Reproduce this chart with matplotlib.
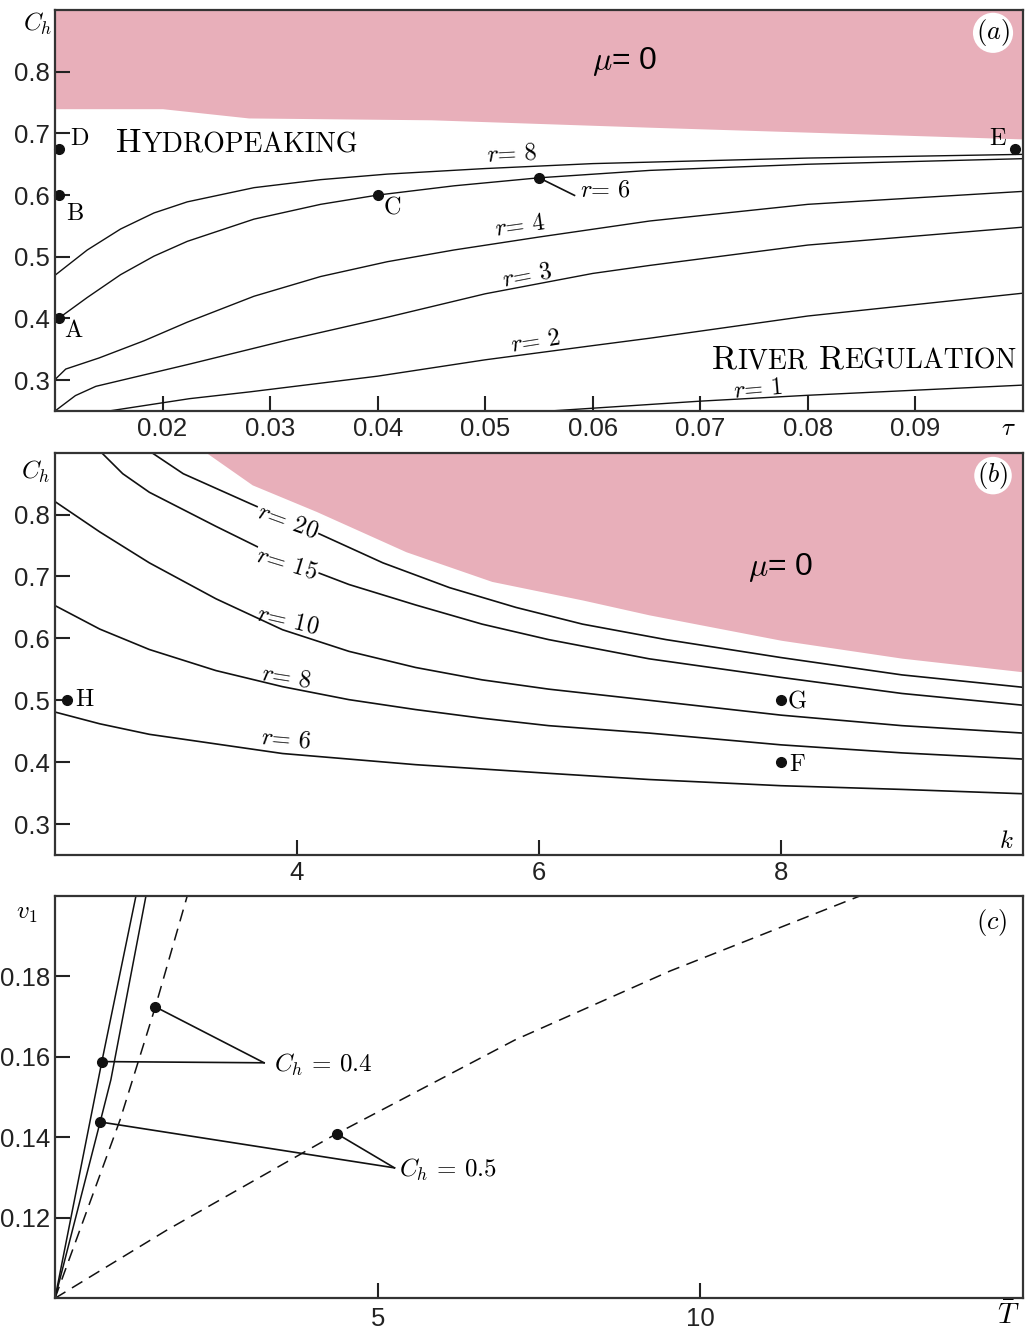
import matplotlib.pyplot as plt

plt.rcParams['mathtext.fontset'] = 'cm'
plt.rcParams['font.family'] = ['Liberation Sans', 'DejaVu Sans']

PINK = '#e8afba'
INK = '#222222'

# ---- panel (a): C_h against tau ----
tau_pink = [0.01, 0.02, 0.028, 0.045, 0.0653, 0.08, 0.1]
ch_pink_a = [0.740, 0.740, 0.725, 0.722, 0.710, 0.702, 0.691]

tau_r8 = [0.01, 0.013, 0.0161, 0.0192, 0.0223, 0.0285, 0.0347, 0.0409, 0.05, 0.06, 0.08, 0.1]
ch_r8 = [0.470, 0.511, 0.545, 0.571, 0.589, 0.612, 0.625, 0.634, 0.643, 0.651, 0.660, 0.666]
tau_r6 = [0.01, 0.013, 0.0161, 0.0192, 0.0223, 0.0285, 0.0347, 0.04, 0.0471, 0.055, 0.0653, 0.08, 0.1]
ch_r6 = [0.396, 0.434, 0.471, 0.501, 0.525, 0.561, 0.585, 0.600, 0.615, 0.628, 0.640, 0.650, 0.659]
tau_r4 = [0.01, 0.011, 0.0141, 0.0183, 0.0223, 0.0285, 0.0347, 0.0409, 0.0471, 0.055, 0.0653, 0.08, 0.1]
ch_r4 = [0.301, 0.318, 0.336, 0.364, 0.394, 0.436, 0.468, 0.492, 0.511, 0.532, 0.558, 0.585, 0.606]
tau_r3 = [0.01, 0.0119, 0.0138, 0.0225, 0.0316, 0.0409, 0.05, 0.06, 0.0653, 0.08, 0.1]
ch_r3 = [0.250, 0.275, 0.290, 0.326, 0.365, 0.402, 0.440, 0.473, 0.486, 0.519, 0.548]
tau_r2 = [0.015, 0.0225, 0.0281, 0.04, 0.05, 0.06, 0.0653, 0.08, 0.1]
ch_r2 = [0.250, 0.270, 0.281, 0.3065, 0.333, 0.356, 0.368, 0.404, 0.441]
tau_r1 = [0.056, 0.0653, 0.07, 0.08, 0.1]
ch_r1 = [0.250, 0.2606, 0.266, 0.2755, 0.292]

pts_a_tau = [0.0104, 0.0104, 0.0104, 0.04, 0.0993]
pts_a_ch = [0.675, 0.5995, 0.400, 0.600, 0.675]
r6_mark = (0.055, 0.628)
r6_tail = (0.0583, 0.5995)

# ---- panel (b): C_h against k ----
k_pink = [3.25, 3.63, 4.16, 4.90, 5.61, 6.36, 6.91, 8.0, 9.0, 10.0]
ch_pink_b = [0.900, 0.848, 0.805, 0.740, 0.692, 0.662, 0.638, 0.597, 0.568, 0.546]

k_r20 = [2.80, 3.06, 3.61, 4.16, 4.71, 5.26, 5.81, 6.36, 7.05, 8.0, 9.0, 10.0]
ch_r20 = [0.900, 0.866, 0.818, 0.771, 0.722, 0.682, 0.650, 0.623, 0.598, 0.569, 0.541, 0.521]
k_r15 = [2.385, 2.56, 2.78, 3.33, 3.88, 4.43, 4.98, 5.53, 6.08, 6.91, 8.0, 9.0, 10.0]
ch_r15 = [0.900, 0.866, 0.836, 0.781, 0.728, 0.687, 0.654, 0.623, 0.598, 0.567, 0.537, 0.511, 0.492]
k_r10 = [2.0, 2.37, 2.78, 3.33, 3.88, 4.43, 4.98, 5.53, 6.08, 6.91, 8.0, 9.0, 10.0]
ch_r10 = [0.821, 0.772, 0.722, 0.664, 0.614, 0.579, 0.553, 0.533, 0.518, 0.500, 0.476, 0.459, 0.447]
k_r8 = [2.0, 2.37, 2.78, 3.33, 3.88, 4.43, 4.98, 5.53, 6.08, 6.91, 8.0, 9.0, 10.0]
ch_r8b = [0.653, 0.615, 0.582, 0.548, 0.522, 0.501, 0.485, 0.471, 0.459, 0.447, 0.428, 0.415, 0.405]
k_r6 = [2.0, 2.37, 2.78, 3.88, 4.98, 6.08, 6.91, 8.0, 9.0, 10.0]
ch_r6b = [0.481, 0.462, 0.445, 0.414, 0.396, 0.382, 0.372, 0.362, 0.356, 0.349]

pts_b_k = [2.096, 8.0, 8.0]
pts_b_ch = [0.500, 0.500, 0.400]

# ---- panel (c): v1 against T bar ----
t_s1 = [0.0, 0.726, 1.255]
v_s1 = [0.100, 0.1588, 0.200]
t_s2 = [0.0, 0.70, 0.866, 1.41]
v_s2 = [0.100, 0.1438, 0.1543, 0.200]
t_d1 = [0.0, 0.5, 1.01, 1.555, 2.05]
v_d1 = [0.100, 0.122, 0.1444, 0.1724, 0.200]
t_d2 = [0.0, 1.74, 4.365, 7.13, 9.53, 12.48]
v_d2 = [0.100, 0.117, 0.1409, 0.1642, 0.1813, 0.200]

dots_c_t = [0.726, 1.555, 0.70, 4.365]
dots_c_v = [0.1588, 0.1724, 0.1438, 0.1409]
hub_04 = (3.24, 0.1585)
hub_05 = (5.26, 0.1324)

fig = plt.figure(figsize=(10.26, 13.31), dpi=100)
ax_a = fig.add_axes([0.0536, 0.6912, 0.9435, 0.3013])
ax_b = fig.add_axes([0.0536, 0.3576, 0.9435, 0.3023])
ax_c = fig.add_axes([0.0536, 0.0246, 0.9435, 0.3024])


def style(ax, xpad=4.5):
    for s in ax.spines.values():
        s.set_linewidth(1.6)
        s.set_color('#333333')
    ax.tick_params(direction='in', length=11, width=1.5, labelsize=18.5,
                   color=INK, labelcolor=INK)
    ax.tick_params(axis='y', pad=3.5)
    ax.tick_params(axis='x', pad=xpad)


def fx(px):
    return px / 1026


def fy(py):
    return 1 - py / 1331


def smallcaps(ax, x, y, words, big, small):
    # fake small caps: big first letter, smaller capitals after it
    renderer = fig.canvas.get_renderer()
    off = 0.0
    for w in words:
        for part, size in ((w[0], big), (w[1:], small)):
            t = ax.annotate(part, xy=(x, y), xytext=(off, 0), textcoords='offset points',
                            fontsize=size, family='cmr10', va='baseline', ha='left')
            off += t.get_window_extent(renderer).width * 72 / fig.dpi
        off += big * 0.33


def panel_tag(ax, label):
    ax.text(0.969, 0.943, label, transform=ax.transAxes, fontsize=19, ha='center', va='center',
            bbox=dict(boxstyle='circle,pad=0.12', fc='white', ec='none'))


rlab = dict(fontsize=17.5, family='cmr10', ha='center', va='center', rotation_mode='anchor')
plab = dict(fontsize=17.5, family='cmr10', ha='center', va='center')
gap = dict(boxstyle='square,pad=0.05', fc='white', ec='none')

# ---------------- (a) ----------------
ax = ax_a
style(ax)
ax.fill_between(tau_pink, ch_pink_a, 0.9, color=PINK, lw=0)
for xs, ys in [(tau_r8, ch_r8), (tau_r6, ch_r6), (tau_r4, ch_r4),
               (tau_r3, ch_r3), (tau_r2, ch_r2), (tau_r1, ch_r1)]:
    ax.plot(xs, ys, color='#111111', lw=1.0)
ax.plot(pts_a_tau, pts_a_ch, 'o', ms=7, color='#111111', clip_on=False)
ax.plot([r6_mark[0]], [r6_mark[1]], 'o', ms=7, color='#111111')
ax.plot([r6_mark[0], r6_tail[0]], [r6_mark[1], r6_tail[1]], color='#111111', lw=1.2)
ax.set_xlim(0.01, 0.1)
ax.set_ylim(0.25, 0.9)
ax.set_xticks([0.02, 0.03, 0.04, 0.05, 0.06, 0.07, 0.08, 0.09])
ax.set_xticklabels(['0.02', '0.03', '0.04', '0.05', '0.06', '0.07', '0.08', '0.09'])
ax.set_yticks([0.3, 0.4, 0.5, 0.6, 0.7, 0.8])
ax.set_yticklabels(['0.3', '0.4', '0.5', '0.6', '0.7', '0.8'])

ax.text(0.0525, 0.667, r'$r$= 8', rotation=3, **rlab)
ax.text(0.0588, 0.6068, r'$r$= 6', fontsize=17.5, family='cmr10', ha='left', va='center')
ax.text(0.0533, 0.5484, r'$r$= 4', rotation=8, **rlab)
ax.text(0.0539, 0.4692, r'$r$= 3', rotation=11, **rlab)
ax.text(0.0547, 0.3616, r'$r$= 2', rotation=9, **rlab)
ax.text(0.0754, 0.285, r'$r$= 1', rotation=5, **rlab)

ax.text(0.0123, 0.691, 'D', **plab)
ax.text(0.0118, 0.569, 'B', **plab)
ax.text(0.0117, 0.379, 'A', **plab)
ax.text(0.0414, 0.5786, 'C', **plab)
ax.text(0.0976, 0.6903, 'E', **plab)

ax.text(0.063, 0.817, r'$\mu$= 0', fontsize=23, ha='center', va='center')
smallcaps(ax, 0.0157, 0.6694, ['HYDROPEAKING'], 24.5, 20)
smallcaps(ax, 0.0711, 0.3184, ['RIVER', 'REGULATION'], 24.5, 20)
panel_tag(ax, r'$(a)$')
fig.text(fx(38), fy(24), r'$C_h$', fontsize=18, ha='center', va='center')
fig.text(fx(1008), fy(428), r'$\tau$', fontsize=18, ha='center', va='center')

# ---------------- (b) ----------------
ax = ax_b
style(ax)
ax.fill_between(k_pink, ch_pink_b, 0.9, color=PINK, lw=0)
for xs, ys in [(k_r20, ch_r20), (k_r15, ch_r15), (k_r10, ch_r10),
               (k_r8, ch_r8b), (k_r6, ch_r6b)]:
    ax.plot(xs, ys, color='#111111', lw=1.2)
ax.plot(pts_b_k, pts_b_ch, 'o', ms=7, color='#111111')
ax.set_xlim(2, 10)
ax.set_ylim(0.25, 0.9)
ax.set_xticks([4, 6, 8])
ax.set_xticklabels(['4', '6', '8'])
ax.set_yticks([0.3, 0.4, 0.5, 0.6, 0.7, 0.8])
ax.set_yticklabels(['0.3', '0.4', '0.5', '0.6', '0.7', '0.8'])

ax.text(3.92, 0.788, r'$r$= 20', rotation=-20, bbox=gap, **rlab)
ax.text(3.917, 0.720, r'$r$= 15', rotation=-17, bbox=gap, **rlab)
ax.text(3.92, 0.629, r'$r$= 10', rotation=-13, **rlab)
ax.text(3.91, 0.537, r'$r$= 8', rotation=-9, **rlab)
ax.text(3.91, 0.437, r'$r$= 6', rotation=-5, **rlab)
ax.text(2.24, 0.5, 'H', **plab)
ax.text(8.13, 0.497, 'G', **plab)
ax.text(8.13, 0.396, 'F', **plab)
ax.text(8.0, 0.7153, r'$\mu$= 0', fontsize=23, ha='center', va='center')
panel_tag(ax, r'$(b)$')
ax.text(0.983, 0.035, r'$k$', transform=ax.transAxes, fontsize=18, ha='center', va='center')
fig.text(fx(36), fy(472), r'$C_h$', fontsize=18, ha='center', va='center')

# ---------------- (c) ----------------
ax = ax_c
style(ax, xpad=6.5)
ax.plot(t_s1, v_s1, color='#111111', lw=1.1)
ax.plot(t_s2, v_s2, color='#111111', lw=1.1)
ax.plot(t_d1, v_d1, color='#111111', lw=1.1, dashes=(8, 5))
ax.plot(t_d2, v_d2, color='#111111', lw=1.1, dashes=(8, 5))
ax.plot(dots_c_t, dots_c_v, 'o', ms=7, color='#111111')
for i in (0, 1):
    ax.plot([dots_c_t[i], hub_04[0]], [dots_c_v[i], hub_04[1]], color='#111111', lw=1.2)
for i in (2, 3):
    ax.plot([dots_c_t[i], hub_05[0]], [dots_c_v[i], hub_05[1]], color='#111111', lw=1.2)
ax.set_xlim(0, 15)
ax.set_ylim(0.1, 0.2)
ax.set_xticks([5, 10])
ax.set_xticklabels(['5', '10'])
ax.set_yticks([0.12, 0.14, 0.16, 0.18])
ax.set_yticklabels(['0.12', '0.14', '0.16', '0.18'])
ax.text(3.39, 0.158, r'$C_h\,=\,0.4$', fontsize=18, ha='left', va='center')
ax.text(5.33, 0.1318, r'$C_h\,=\,0.5$', fontsize=18, ha='left', va='center')
ax.text(0.9676, 0.9347, r'$(c)$', transform=ax.transAxes, fontsize=19, ha='center', va='center')
fig.text(fx(27), fy(913), r'$v_1$', fontsize=18, ha='center', va='center')
fig.text(fx(1008), fy(1316), r'$\bar{T}$', fontsize=21, ha='center', va='center')

fig.savefig('out.png', dpi=100)
